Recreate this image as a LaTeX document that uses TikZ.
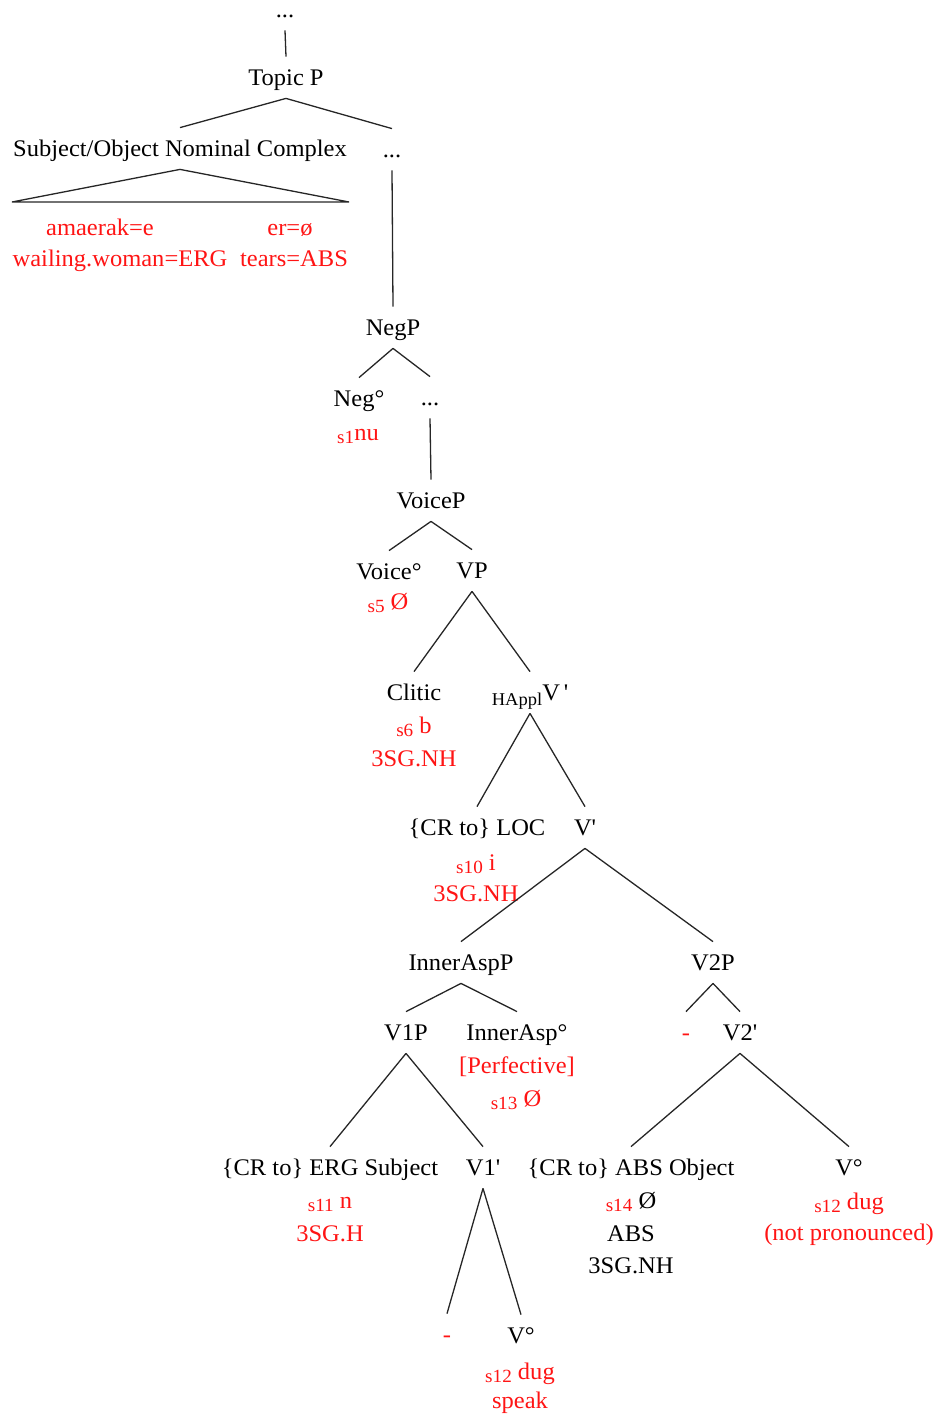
\documentclass[tikz,border=0pt]{standalone}
\usepackage{fontspec}
\setmainfont{Liberation Serif}[FakeStretch=1.03]
\begin{document}
\definecolor{gloss}{RGB}{255,20,20}
\newcommand{\idx}[1]{\raisebox{-0.35ex}{\fontsize{9.3}{10}\selectfont s#1}}
\newcommand{\dg}{°}
\newcommand{\pr}{\textquotesingle}
\begin{tikzpicture}[x=0.5pt,y=-0.5pt,
  every node/.style={font=\fontsize{11.9}{14}\selectfont},
  lab/.style={anchor=base, inner xsep=2pt, inner ysep=4pt, text height=10pt, text depth=2.5pt},
  gl/.style={anchor=base, inner sep=0pt, text=gloss},
  bl/.style={anchor=base, inner sep=0pt},
  branch/.style={line width=0.65pt, black!85}]
\useasboundingbox (0,0) rectangle (937,1414);

% category labels
\node[lab] (top)   at (285,17)   {...};
\node[lab] (topic) at (286,85)   {Topic P};
\node[lab] (subj)  at (180,156)  {Subject/Object Nominal Complex};
\node[lab] (dA)    at (392,157)  {...};
\node[lab] (negp)  at (393,335)  {NegP};
\node[lab] (neg)   at (359,406)  {Neg\dg};
\node[lab] (dB)    at (430,405)  {...};
\node[lab] (voicep) at (431,508) {VoiceP};
\node[lab] (voice) at (389,579)  {Voice\dg};
\node[lab] (vp)    at (472,578)  {VP};
\node[lab] (clitic) at (414,700) {Clitic};
\node[lab] (happl) at (530,700)  {\raisebox{-0.5ex}{\fontsize{9}{10}\selectfont HAppl}V\,\pr};
\node[lab] (loc)   at (477,835)  {\{CR to\} LOC};
\node[lab] (vbar)  at (585,835)  {V\pr};
\node[lab] (iaspp) at (461,970)  {InnerAspP};
\node[lab] (v2p)   at (713,970)  {V2P};
\node[lab] (v1p)   at (406,1040) {V1P};
\node[lab] (iasp)  at (517,1040) {InnerAsp\dg};
\node[lab, text=gloss] (dC) at (686,1040) {-};
\node[lab] (v2bar) at (740,1040) {V2\pr};
\node[lab] (erg)   at (330,1175) {\{CR to\} ERG Subject};
\node[lab] (v1bar) at (483,1175) {V1\pr};
\node[lab] (abs)   at (631,1175) {\{CR to\} ABS Object};
\node[lab] (vb)    at (849,1175) {V\dg};
\node[lab, text=gloss] (dD) at (447,1342) {-};
\node[lab] (va)    at (521,1343) {V\dg};

% glosses
\node[gl] (g1) at (100,235) {amaerak=e};
\node[gl] (g2) at (290,235) {er=ø};
\node[gl] (g3) at (120,266) {wailing.woman=ERG};
\node[gl] (g4) at (294,266) {tears=ABS};
\node[gl] (g5) at (358,440) {\idx{1}nu};
\node[gl] (g6) at (388,609) {\idx{5} Ø};
\node[gl] (g7) at (414,733) {\idx{6} b};
\node[gl] (g8) at (414,766) {3SG.NH};
\node[gl] (g9) at (476,870) {\idx{10} i};
\node[gl] (g10) at (476,901) {3SG.NH};
\node[gl] (g11) at (517,1073) {[Perfective]};
\node[gl] (g12) at (516,1106) {\idx{13} Ø};
\node[gl] (g13) at (330,1208) {\idx{11} n};
\node[gl] (g14) at (330,1241) {3SG.H};
\node[gl] (g15) at (520,1379) {\idx{12} dug};
\node[gl] (g16) at (520,1408) {speak};
\node[bl] (g17) at (631,1208) {\textcolor{gloss}{\idx{14}} Ø};
\node[bl] (g18) at (631,1241) {ABS};
\node[bl] (g19) at (631,1273) {3SG.NH};
\node[gl] (g20) at (849,1209) {\idx{12} dug};
\node[gl] (g21) at (849,1240) {(not pronounced)};

% branches
\draw[branch] (top.south) -- (topic.north);
\draw[branch] (topic.south) -- (subj.north);
\draw[branch] (topic.south) -- (dA.north);
\coordinate (tl) at (12,202);
\coordinate (tr) at (349,202);
\draw[branch] (tl) -- (subj.south) -- (tr) -- cycle;
\draw[branch] (dA.south) -- (negp.north);
\draw[branch] (negp.south) -- (neg.north);
\draw[branch] (negp.south) -- (dB.north);
\draw[branch] (dB.south) -- (voicep.north);
\draw[branch] (voicep.south) -- (voice.north);
\draw[branch] (voicep.south) -- (vp.north);
\draw[branch] (vp.south) -- (clitic.north);
\draw[branch] (vp.south) -- (happl.north);
\draw[branch] (happl.south) -- (loc.north);
\draw[branch] (happl.south) -- (vbar.north);
\draw[branch] (vbar.south) -- (iaspp.north);
\draw[branch] (vbar.south) -- (v2p.north);
\draw[branch] (iaspp.south) -- (v1p.north);
\draw[branch] (iaspp.south) -- (iasp.north);
\draw[branch] (v2p.south) -- (dC.north);
\draw[branch] (v2p.south) -- (v2bar.north);
\draw[branch] (v1p.south) -- (erg.north);
\draw[branch] (v1p.south) -- (v1bar.north);
\draw[branch] (v1bar.south) -- (dD.north);
\draw[branch] (v1bar.south) -- (va.north);
\draw[branch] (v2bar.south) -- (abs.north);
\draw[branch] (v2bar.south) -- (vb.north);
\end{tikzpicture}
\end{document}
